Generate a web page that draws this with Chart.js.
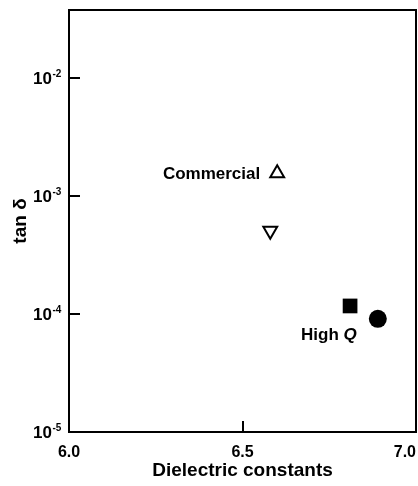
<!DOCTYPE html>
<html>
<head>
<meta charset="utf-8">
<script src="https://cdn.jsdelivr.net/npm/chart.js@4/dist/chart.umd.min.js"></script>
<style>
  html, body { margin: 0; padding: 0; background: #fff; }
  #wrap { width: 418px; height: 486px; }
</style>
</head>
<body>
<div id="wrap"><canvas id="c" width="418" height="486"></canvas></div>
<script>
// Dielectric constant and loss tangent of each sample
const sampleNames   = ['Commercial (a)', 'Commercial (b)', 'High Q (a)', 'High Q (b)'];
const dielectric    = [6.60, 6.58, 6.81, 6.89];
const tanDelta      = [1.56e-3, 5.07e-4, 1.17e-4, 9.1e-5];

// Axis ticks
const xTickValues   = [6.0, 6.5, 7.0];
const yTickExponents = [-5, -4, -3, -2];

// Group captions
const commercialCaption = 'Commercial';
const highQCaption      = ['High ', 'Q'];

const FONT = '"Liberation Sans", Arial, Helvetica, sans-serif';

function point(i) { return [{ x: dielectric[i], y: tanDelta[i] }]; }

const frameAndLabels = {
  id: 'frameAndLabels',
  afterDraw(chart) {
    const { ctx, chartArea: a, scales: { x, y } } = chart;
    ctx.save();
    ctx.strokeStyle = '#000';
    ctx.fillStyle = '#000';
    ctx.lineWidth = 2;

    // top and right edges of the frame
    ctx.beginPath();
    ctx.moveTo(a.left - 1, a.top);
    ctx.lineTo(a.right, a.top);
    ctx.lineTo(a.right, a.bottom + 1);
    ctx.stroke();

    // inward tick marks on the y axis
    yTickExponents.forEach(e => {
      const py = Math.round(y.getPixelForValue(Math.pow(10, e)));
      if (py <= a.top + 2 || py >= a.bottom - 2) return;
      ctx.beginPath();
      ctx.moveTo(a.left, py);
      ctx.lineTo(a.left + 11, py);
      ctx.stroke();
    });
    // inward tick marks on the x axis
    xTickValues.forEach(v => {
      const px = Math.round(x.getPixelForValue(v));
      if (px <= a.left + 2 || px >= a.right - 2) return;
      ctx.beginPath();
      ctx.moveTo(px, a.bottom);
      ctx.lineTo(px, a.bottom - 11);
      ctx.stroke();
    });

    // y tick labels: 10 with a raised exponent
    yTickExponents.forEach(e => {
      const py = y.getPixelForValue(Math.pow(10, e));
      ctx.font = 'bold 17px ' + FONT;
      ctx.textAlign = 'right';
      ctx.textBaseline = 'alphabetic';
      ctx.fillText('10', 52, py + 6);
      ctx.font = 'bold 10px ' + FONT;
      ctx.textAlign = 'left';
      ctx.fillText('-' + Math.abs(e), 52.5, py - 1.5);
    });

    // x tick labels, kept inside the canvas
    ctx.font = 'bold 16px ' + FONT;
    ctx.textBaseline = 'alphabetic';
    ctx.textAlign = 'left';
    xTickValues.forEach(v => {
      const txt = v.toFixed(1);
      const w = ctx.measureText(txt).width;
      let left = x.getPixelForValue(v) - w / 2;
      left = Math.min(left, chart.width - 2 - w);
      ctx.fillText(txt, left, 457);
    });

    // group captions beside their markers
    ctx.font = 'bold 17px ' + FONT;
    ctx.textAlign = 'right';
    const cx = x.getPixelForValue(dielectric[0]);
    const cy = y.getPixelForValue(tanDelta[0]);
    ctx.fillText(commercialCaption, cx - 17, cy + 6);

    const hx = x.getPixelForValue(dielectric[2]);
    const hy = y.getPixelForValue(tanDelta[2]);
    ctx.textAlign = 'left';
    ctx.font = 'bold 17px ' + FONT;
    const w1 = ctx.measureText(highQCaption[0]).width;
    ctx.fillText(highQCaption[0], hx - 49, hy + 34);
    ctx.font = 'italic bold 17px ' + FONT;
    ctx.fillText(highQCaption[1], hx - 49 + w1, hy + 34);
    ctx.restore();
  }
};

new Chart(document.getElementById('c'), {
  type: 'scatter',
  data: {
    datasets: [
      { label: sampleNames[0], data: point(0), pointStyle: 'triangle', pointRadius: 8,
        borderColor: '#000', backgroundColor: 'rgba(0,0,0,0)', borderWidth: 2 },
      { label: sampleNames[1], data: point(1), pointStyle: 'triangle', rotation: 180, pointRadius: 8,
        borderColor: '#000', backgroundColor: 'rgba(0,0,0,0)', borderWidth: 2 },
      { label: sampleNames[2], data: point(2), pointStyle: 'rect', pointRadius: 10.4,
        borderColor: '#000', backgroundColor: '#000', borderWidth: 0 },
      { label: sampleNames[3], data: point(3), pointStyle: 'circle', pointRadius: 9,
        borderColor: '#000', backgroundColor: '#000', borderWidth: 0 }
    ]
  },
  options: {
    responsive: false,
    animation: false,
    events: [],
    layout: { autoPadding: false, padding: { top: 10, right: 2, left: 0, bottom: 0 } },
    plugins: { legend: { display: false }, tooltip: { enabled: false } },
    scales: {
      x: {
        type: 'linear',
        min: 6.0,
        max: 7.0,
        grid: { display: false, drawTicks: false },
        border: { display: true, color: '#000', width: 2 },
        ticks: { display: false },
        title: {
          display: true,
          text: 'Dielectric constants',
          color: '#000',
          font: { family: FONT, size: 19, weight: 'bold' },
          padding: { top: 0, bottom: 4 }
        },
        afterFit(s) { s.height = 54; }
      },
      y: {
        type: 'logarithmic',
        min: 1e-5,
        max: 0.0377,
        grid: { display: false, drawTicks: false },
        border: { display: true, color: '#000', width: 2 },
        ticks: { display: false },
        afterBuildTicks(s) { s.ticks = yTickExponents.map(e => ({ value: Math.pow(10, e) })); },
        title: {
          display: true,
          text: 'tan δ',
          color: '#000',
          font: { family: FONT, size: 19, weight: 'bold' },
          padding: { top: 9, bottom: 0 }
        },
        afterFit(s) { s.width = 69; }
      }
    }
  },
  plugins: [frameAndLabels]
});
</script>
</body>
</html>
